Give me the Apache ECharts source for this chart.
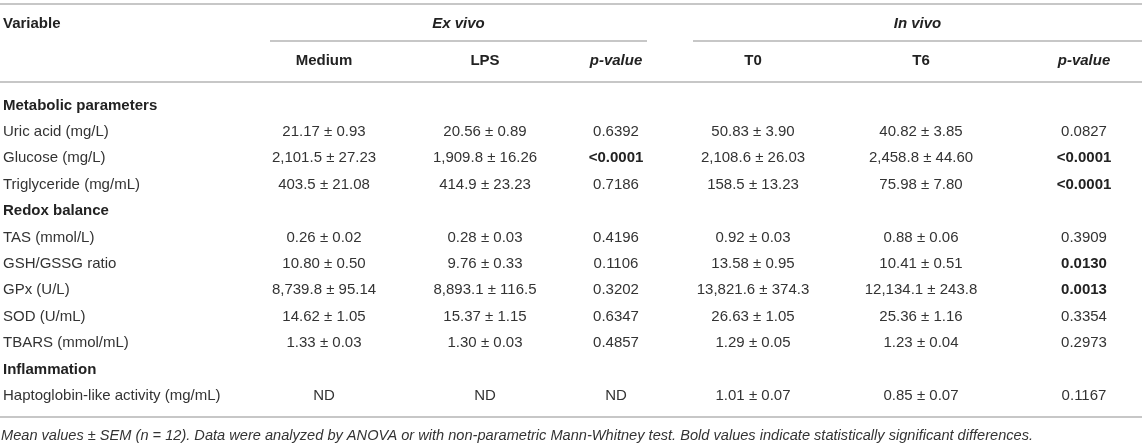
<!DOCTYPE html>
<html>
<head>
<meta charset="utf-8">
<script src="https://cdn.jsdelivr.net/npm/echarts@6/dist/echarts.min.js"></script>
<style>html,body{margin:0;padding:0;background:#fff}#c{width:1146px;height:445px}</style>
</head>
<body>
<div id="c"></div>
<script>
// ---- data ----
const groupHeaders = ['Ex vivo', 'In vivo'];
const columnHeaders = ['Medium', 'LPS', 'p-value', 'T0', 'T6', 'p-value'];
const rowLabels = ['Metabolic parameters', 'Uric acid (mg/L)', 'Glucose (mg/L)', 'Triglyceride (mg/mL)',
  'Redox balance', 'TAS (mmol/L)', 'GSH/GSSG ratio', 'GPx (U/L)', 'SOD (U/mL)', 'TBARS (mmol/mL)',
  'Inflammation', 'Haptoglobin-like activity (mg/mL)'];
const sectionRows = [0, 4, 10];
const exMedium = [null, '21.17 ± 0.93', '2,101.5 ± 27.23', '403.5 ± 21.08', null, '0.26 ± 0.02', '10.80 ± 0.50', '8,739.8 ± 95.14', '14.62 ± 1.05', '1.33 ± 0.03', null, 'ND'];
const exLPS = [null, '20.56 ± 0.89', '1,909.8 ± 16.26', '414.9 ± 23.23', null, '0.28 ± 0.03', '9.76 ± 0.33', '8,893.1 ± 116.5', '15.37 ± 1.15', '1.30 ± 0.03', null, 'ND'];
const exP = [null, '0.6392', '<0.0001', '0.7186', null, '0.4196', '0.1106', '0.3202', '0.6347', '0.4857', null, 'ND'];
const inT0 = [null, '50.83 ± 3.90', '2,108.6 ± 26.03', '158.5 ± 13.23', null, '0.92 ± 0.03', '13.58 ± 0.95', '13,821.6 ± 374.3', '26.63 ± 1.05', '1.29 ± 0.05', null, '1.01 ± 0.07'];
const inT6 = [null, '40.82 ± 3.85', '2,458.8 ± 44.60', '75.98 ± 7.80', null, '0.88 ± 0.06', '10.41 ± 0.51', '12,134.1 ± 243.8', '25.36 ± 1.16', '1.23 ± 0.04', null, '0.85 ± 0.07'];
const inP = [null, '0.0827', '<0.0001', '<0.0001', null, '0.3909', '0.0130', '0.0013', '0.3354', '0.2973', null, '0.1167'];
const footnote = 'Mean values ± SEM (n = 12). Data were analyzed by ANOVA or with non-parametric Mann-Whitney test. Bold values indicate statistically significant differences.';

// ---- layout (pixels) ----
const W = 1146, H = 445;
const labelX = 3;
const colX = [324, 485, 616, 753, 921, 1084];
const groupSpan = [[270, 647], [693, 1142]];
const headY1 = 24, headY2 = 61;
const bodyY0 = 105.5, rowH = 26.4;
const ruleFull = [4, 82, 417];
const footY = 436;
const FONT = '"Liberation Sans", Arial, Helvetica, sans-serif';

function isSig(s) {
  if (!s || s === 'ND') return false;
  if (s[0] === '<') return true;
  return parseFloat(s) < 0.05;
}

// build cell data: [x, y, text, align, weight, style, size, color]
const cells = [];
cells.push([labelX, headY1, 'Variable', 'left', 'bold', 'normal', 15, '#222']);
groupHeaders.forEach((g, i) => {
  cells.push([(groupSpan[i][0] + groupSpan[i][1]) / 2, headY1, g, 'center', 'bold', 'italic', 15, '#222']);
});
columnHeaders.forEach((h, i) => {
  cells.push([colX[i], headY2, h, 'center', 'bold', h === 'p-value' ? 'italic' : 'normal', 15, '#222']);
});
const cols = [exMedium, exLPS, exP, inT0, inT6, inP];
rowLabels.forEach((lab, r) => {
  const y = bodyY0 + r * rowH;
  const sec = sectionRows.indexOf(r) >= 0;
  cells.push([labelX, y, lab, 'left', sec ? 'bold' : 'normal', 'normal', 15, sec ? '#222' : '#333']);
  cols.forEach((arr, c) => {
    const v = arr[r];
    if (v == null) return;
    const pcol = (c === 2 || c === 5);
    cells.push([colX[c], y, v, 'center', pcol && isSig(v) ? 'bold' : 'normal', 'normal', 15, pcol && isSig(v) ? '#222' : '#333']);
  });
});
cells.push([labelX - 2, footY, footnote, 'left', 'normal', 'italic', 14.6, '#333']);

// rules: [x1, x2, y]
const rules = ruleFull.map(y => [0, 1142, y]);
groupSpan.forEach(s => rules.push([s[0], s[1], 41]));

const chart = echarts.init(document.getElementById('c'), null, { renderer: 'canvas' });
chart.setOption({
  animation: false,
  backgroundColor: '#fff',
  grid: { left: 0, right: 0, top: 0, bottom: 0 },
  xAxis: { type: 'value', min: 0, max: W, show: false },
  yAxis: { type: 'value', min: 0, max: H, inverse: true, show: false },
  series: [
    {
      type: 'custom',
      data: rules,
      renderItem: function (params, api) {
        const p1 = api.coord([api.value(0), api.value(2)]);
        const p2 = api.coord([api.value(1), api.value(2)]);
        return {
          type: 'line',
          shape: { x1: p1[0], y1: p1[1], x2: p2[0], y2: p2[1] },
          style: { stroke: '#b4b4b4', lineWidth: 1.5 }
        };
      }
    },
    {
      type: 'custom',
      data: cells,
      renderItem: function (params, api) {
        const d = cells[params.dataIndex];
        const p = api.coord([d[0], d[1]]);
        return {
          type: 'text',
          x: p[0], y: p[1],
          style: {
            text: d[2],
            align: d[3],
            verticalAlign: 'middle',
            font: d[5] + ' ' + d[4] + ' ' + d[6] + 'px ' + FONT,
            fill: d[7]
          }
        };
      }
    }
  ]
});
</script>
</body>
</html>
